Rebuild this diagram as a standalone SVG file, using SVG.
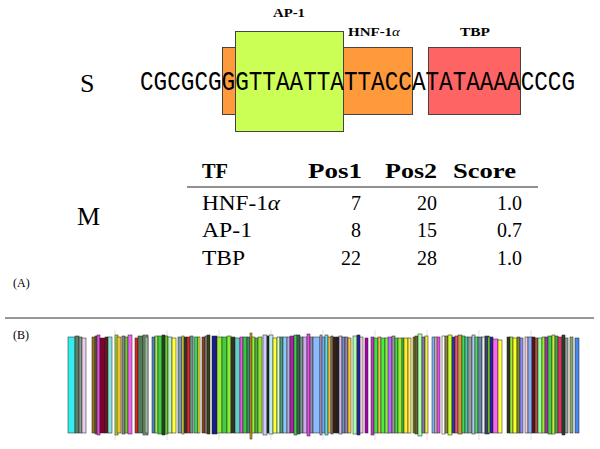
<svg xmlns="http://www.w3.org/2000/svg" width="600" height="449" viewBox="0 0 600 449">
<style>
.serif{font-family:"Liberation Serif","DejaVu Serif",serif;fill:#000}
.lbl{font-family:"Liberation Serif","DejaVu Serif",serif;font-weight:bold;font-size:12px}
.hd{font-family:"Liberation Serif","DejaVu Serif",serif;font-weight:bold;font-size:20px}
.cell{font-family:"Liberation Serif","DejaVu Serif",serif;font-size:20px}
.box{stroke:#444;stroke-width:1}
.b{stroke:#222;stroke-width:0.6;stroke-opacity:0.85}
.grid{stroke:#ccc;stroke-width:0.6}
</style>
<rect width="600" height="449" fill="#fff"/>

<g id="panel-a">
  <text class="serif" x="13" y="287" font-size="12">(A)</text>
  <text class="serif" x="80" y="92" font-size="26">S</text>
  <text class="serif" x="77" y="225" font-size="26">M</text>

  <g id="box-hnf1a">
    <rect class="box" x="222.5" y="47.5" width="190" height="67" fill="#ff9a3c"/>
    <text class="lbl" x="348" y="36" textLength="52" lengthAdjust="spacingAndGlyphs">HNF-1<tspan font-style="italic" font-weight="normal">α</tspan></text>
  </g>
  <g id="box-ap1">
    <rect class="box" x="235.5" y="31.5" width="108" height="100" fill="#ccff55"/>
    <text class="lbl" x="273" y="17" textLength="32" lengthAdjust="spacingAndGlyphs">AP-1</text>
  </g>
  <g id="box-tbp">
    <rect class="box" x="428.5" y="47.5" width="92" height="67" fill="#ff6464"/>
    <text class="lbl" x="460" y="36" textLength="30" lengthAdjust="spacingAndGlyphs">TBP</text>
  </g>
  <text id="sequence" x="140" y="90" font-family="'Liberation Mono','DejaVu Sans Mono',monospace" font-size="27" textLength="435" lengthAdjust="spacingAndGlyphs">CGCGCGGGTTAATTATTACCATATAAAACCCG</text>

  <g id="table">
    <text class="hd" x="202" y="178" textLength="26" lengthAdjust="spacingAndGlyphs">TF</text>
    <text class="hd" x="308" y="178" textLength="54" lengthAdjust="spacingAndGlyphs">Pos1</text>
    <text class="hd" x="385" y="178" textLength="52" lengthAdjust="spacingAndGlyphs">Pos2</text>
    <text class="hd" x="453" y="178" textLength="63" lengthAdjust="spacingAndGlyphs">Score</text>
    <line x1="187" y1="187" x2="538" y2="187" stroke="#222" stroke-width="1.2"/>
    <text class="cell" x="202" y="210" textLength="78" lengthAdjust="spacingAndGlyphs">HNF-1<tspan font-style="italic">α</tspan></text>
    <text class="cell" x="361" y="210" text-anchor="end">7</text>
    <text class="cell" x="437" y="210" text-anchor="end">20</text>
    <text class="cell" x="522" y="210" text-anchor="end">1.0</text>
    <text class="cell" x="202" y="237" textLength="50" lengthAdjust="spacingAndGlyphs">AP-1</text>
    <text class="cell" x="361" y="237" text-anchor="end">8</text>
    <text class="cell" x="437" y="237" text-anchor="end">15</text>
    <text class="cell" x="522" y="237" text-anchor="end">0.7</text>
    <text class="cell" x="202" y="265" textLength="43" lengthAdjust="spacingAndGlyphs">TBP</text>
    <text class="cell" x="361" y="265" text-anchor="end">22</text>
    <text class="cell" x="437" y="265" text-anchor="end">28</text>
    <text class="cell" x="522" y="265" text-anchor="end">1.0</text>
  </g>
</g>

<line x1="5" y1="318" x2="594" y2="318" stroke="#333" stroke-width="1"/>

<g id="panel-b">
  <text class="serif" x="13" y="339" font-size="12">(B)</text>
  <g id="grid">
    <line class="grid" x1="115" y1="330" x2="115" y2="440"/>
    <line class="grid" x1="167" y1="330" x2="167" y2="440"/>
    <line class="grid" x1="219" y1="330" x2="219" y2="440"/>
    <line class="grid" x1="271" y1="330" x2="271" y2="440"/>
    <line class="grid" x1="323" y1="330" x2="323" y2="440"/>
    <line class="grid" x1="375" y1="330" x2="375" y2="440"/>
    <line class="grid" x1="427" y1="330" x2="427" y2="440"/>
    <line class="grid" x1="479" y1="330" x2="479" y2="440"/>
    <line class="grid" x1="531" y1="330" x2="531" y2="440"/>
  </g>
  <g id="bars">
    <rect class="b" x="68" y="337" width="7" height="96" fill="#33eeee" stroke="#446"/>
    <rect class="b" x="75" y="336" width="4" height="97" fill="#5b7f6b"/>
    <rect class="b" x="79" y="337" width="3" height="96" fill="#8a9a8a"/>
    <rect class="b" x="82" y="338" width="4" height="95" fill="#e6d0ee" stroke="#a7a"/>
    <rect class="b" x="92" y="337" width="3" height="96" fill="#9a7020"/>
    <rect class="b" x="95" y="336" width="2" height="98" fill="#556b2f"/>
    <rect class="b" x="97" y="335" width="3" height="100" fill="#ee44ee"/>
    <rect class="b" x="100" y="338" width="5" height="95" fill="#800030"/>
    <rect class="b" x="105" y="337" width="3" height="96" fill="#6a1a1a"/>
    <rect class="b" x="108" y="337" width="4" height="96" fill="#88e0e0" stroke="#222"/>
    <rect class="b" x="115" y="335" width="3" height="100" fill="#99ee33"/>
    <rect class="b" x="117" y="337" width="4" height="96" fill="#f0c030"/>
    <rect class="b" x="122" y="336" width="3" height="98" fill="#888888"/>
    <rect class="b" x="125" y="337" width="3" height="96" fill="#77cc33"/>
    <rect class="b" x="128" y="335" width="4" height="99" fill="#ee66ee"/>
    <rect class="b" x="135" y="338" width="3" height="95" fill="#dd2222"/>
    <rect class="b" x="138" y="336" width="5" height="97" fill="#557a5a"/>
    <rect class="b" x="143" y="335" width="5" height="100" fill="#779977"/>
    <rect class="b" x="145" y="337" width="3" height="96" fill="#99bb99"/>
    <rect class="b" x="152" y="337" width="3" height="96" fill="#5080c0"/>
    <rect class="b" x="155" y="336" width="3" height="97" fill="#99ee44"/>
    <rect class="b" x="158" y="336" width="4" height="98" fill="#44cc44"/>
    <rect class="b" x="162" y="335" width="3" height="100" fill="#1a4a1a"/>
    <rect class="b" x="165" y="336" width="3" height="98" fill="#66cc33"/>
    <rect class="b" x="168" y="337" width="4" height="96" fill="#bbeebb"/>
    <rect class="b" x="172" y="338" width="4" height="95" fill="#ffff44"/>
    <rect class="b" x="178" y="337" width="4" height="96" fill="#7799aa"/>
    <rect class="b" x="182" y="336" width="2" height="98" fill="#ffee33"/>
    <rect class="b" x="184" y="337" width="3" height="96" fill="#333333"/>
    <rect class="b" x="187" y="337" width="3" height="96" fill="#ee2222"/>
    <rect class="b" x="190" y="336" width="3" height="97" fill="#669988"/>
    <rect class="b" x="194" y="337" width="4" height="96" fill="#44cc66"/>
    <rect class="b" x="198" y="337" width="2" height="96" fill="#ffee22"/>
    <rect class="b" x="202" y="337" width="3" height="96" fill="#884422"/>
    <rect class="b" x="205" y="336" width="3" height="97" fill="#888888"/>
    <rect class="b" x="207" y="335" width="3" height="99" fill="#334411" stroke="#cc3"/>
    <rect class="b" x="212" y="336" width="5" height="98" fill="#1a1a8a"/>
    <rect class="b" x="217" y="337" width="5" height="96" fill="#99ee33"/>
    <rect class="b" x="222" y="337" width="5" height="96" fill="#44cc44"/>
    <rect class="b" x="227" y="336" width="4" height="97" fill="#88ee33"/>
    <rect class="b" x="231" y="337" width="4" height="96" fill="#333322"/>
    <rect class="b" x="235" y="338" width="5" height="95" fill="#66cccc"/>
    <rect class="b" x="240" y="337" width="3" height="96" fill="#ee55ee"/>
    <rect class="b" x="243" y="337" width="4" height="96" fill="#33cc33"/>
    <rect class="b" x="247" y="337" width="3" height="96" fill="#448877"/>
    <rect class="b" x="250" y="333" width="2" height="106" fill="#dd9922"/>
    <rect class="b" x="252" y="337" width="3" height="96" fill="#99ee33"/>
    <rect class="b" x="255" y="338" width="3" height="95" fill="#44bb44"/>
    <rect class="b" x="258" y="337" width="4" height="96" fill="#99dd33"/>
    <rect class="b" x="263" y="335" width="4" height="100" fill="#ccccff"/>
    <rect class="b" x="267" y="336" width="2" height="97" fill="#222222"/>
    <rect class="b" x="269" y="335" width="4" height="99" fill="#bbeeee"/>
    <rect class="b" x="273" y="338" width="4" height="95" fill="#ffff33"/>
    <rect class="b" x="277" y="337" width="3" height="96" fill="#ccffcc"/>
    <rect class="b" x="280" y="337" width="3" height="96" fill="#559977"/>
    <rect class="b" x="283" y="337" width="4" height="96" fill="#88ccff"/>
    <rect class="b" x="287" y="337" width="3" height="96" fill="#bbaadd"/>
    <rect class="b" x="290" y="336" width="4" height="97" fill="#aa22aa"/>
    <rect class="b" x="294" y="335" width="3" height="100" fill="#44cc44"/>
    <rect class="b" x="297" y="335" width="3" height="99" fill="#336655"/>
    <rect class="b" x="300" y="337" width="3" height="96" fill="#779988"/>
    <rect class="b" x="303" y="337" width="4" height="96" fill="#ccaaee"/>
    <rect class="b" x="307" y="334" width="3" height="102" fill="#ee44ee"/>
    <rect class="b" x="310" y="337" width="3" height="96" fill="#9988aa"/>
    <rect class="b" x="313" y="337" width="7" height="96" fill="#88bbff"/>
    <rect class="b" x="320" y="335" width="2" height="100" fill="#bbaadd"/>
    <rect class="b" x="322" y="337" width="3" height="96" fill="#77aaee"/>
    <rect class="b" x="325" y="335" width="3" height="100" fill="#66dddd" stroke="#222"/>
    <rect class="b" x="328" y="337" width="3" height="96" fill="#eebb44"/>
    <rect class="b" x="331" y="336" width="2" height="98" fill="#888888"/>
    <rect class="b" x="333" y="337" width="4" height="96" fill="#3a2010"/>
    <rect class="b" x="337" y="337" width="2" height="96" fill="#222222"/>
    <rect class="b" x="339" y="336" width="3" height="98" fill="#ccbbee"/>
    <rect class="b" x="342" y="337" width="3" height="96" fill="#7788bb"/>
    <rect class="b" x="345" y="337" width="3" height="96" fill="#9988aa"/>
    <rect class="b" x="348" y="338" width="3" height="95" fill="#ffcc33" stroke="#111"/>
    <rect class="b" x="353" y="336" width="4" height="98" fill="#aaffaa"/>
    <rect class="b" x="357" y="335" width="3" height="100" fill="#2222aa"/>
    <rect class="b" x="360" y="337" width="3" height="96" fill="#eeccdd"/>
    <rect class="b" x="365" y="338" width="3" height="95" fill="#aa00aa"/>
    <rect class="b" x="371" y="337" width="3" height="98" fill="#cc33cc"/>
    <rect class="b" x="374" y="338" width="4" height="95" fill="#44dd44"/>
    <rect class="b" x="378" y="337" width="3" height="96" fill="#eebb44"/>
    <rect class="b" x="381" y="338" width="4" height="95" fill="#44ee44"/>
    <rect class="b" x="385" y="338" width="4" height="95" fill="#88ee44"/>
    <rect class="b" x="388" y="337" width="4" height="96" fill="#bb66ff"/>
    <rect class="b" x="392" y="336" width="3" height="97" fill="#999999"/>
    <rect class="b" x="395" y="338" width="3" height="95" fill="#44dd44"/>
    <rect class="b" x="398" y="338" width="4" height="95" fill="#99ee33"/>
    <rect class="b" x="402" y="338" width="2" height="95" fill="#44cc44"/>
    <rect class="b" x="404" y="338" width="4" height="95" fill="#ffee33"/>
    <rect class="b" x="408" y="338" width="3" height="95" fill="#ffee55"/>
    <rect class="b" x="413" y="337" width="2" height="96" fill="#888800"/>
    <rect class="b" x="415" y="336" width="3" height="98" fill="#666633"/>
    <rect class="b" x="418" y="334" width="4" height="102" fill="#aaffaa"/>
    <rect class="b" x="422" y="337" width="3" height="96" fill="#8877aa"/>
    <rect class="b" x="425" y="336" width="3" height="97" fill="#eeee44"/>
    <rect class="b" x="432" y="337" width="3" height="96" fill="#88aaff"/>
    <rect class="b" x="435" y="337" width="2" height="96" fill="#eeeeaa"/>
    <rect class="b" x="437" y="337" width="3" height="96" fill="#ee44ee"/>
    <rect class="b" x="442" y="336" width="3" height="98" fill="#ffffff" stroke="#111"/>
    <rect class="b" x="445" y="336" width="3" height="97" fill="#888833"/>
    <rect class="b" x="448" y="335" width="4" height="100" fill="#ccff33"/>
    <rect class="b" x="452" y="337" width="3" height="96" fill="#3333aa"/>
    <rect class="b" x="455" y="336" width="3" height="97" fill="#ee5566"/>
    <rect class="b" x="458" y="335" width="4" height="99" fill="#cc9944"/>
    <rect class="b" x="462" y="336" width="3" height="97" fill="#44dd44"/>
    <rect class="b" x="465" y="337" width="3" height="96" fill="#44ccaa"/>
    <rect class="b" x="468" y="337" width="4" height="96" fill="#999999"/>
    <rect class="b" x="472" y="335" width="3" height="99" fill="#aaccff"/>
    <rect class="b" x="475" y="337" width="3" height="96" fill="#55dd55"/>
    <rect class="b" x="478" y="337" width="4" height="96" fill="#6688aa"/>
    <rect class="b" x="482" y="337" width="3" height="96" fill="#eeeeee"/>
    <rect class="b" x="485" y="336" width="4" height="98" fill="#334466"/>
    <rect class="b" x="488" y="337" width="2" height="96" fill="#88ee22"/>
    <rect class="b" x="490" y="337" width="3" height="96" fill="#2222aa"/>
    <rect class="b" x="493" y="339" width="5" height="94" fill="#ff66ee"/>
    <rect class="b" x="498" y="340" width="4" height="93" fill="#ffff44"/>
    <rect class="b" x="507" y="337" width="3" height="96" fill="#333322"/>
    <rect class="b" x="510" y="337" width="3" height="96" fill="#99ee33"/>
    <rect class="b" x="513" y="338" width="4" height="95" fill="#ffff22"/>
    <rect class="b" x="517" y="337" width="3" height="96" fill="#778833"/>
    <rect class="b" x="520" y="338" width="3" height="95" fill="#8888ff"/>
    <rect class="b" x="525" y="337" width="3" height="96" fill="#eeccdd"/>
    <rect class="b" x="528" y="337" width="4" height="96" fill="#88aaee"/>
    <rect class="b" x="532" y="337" width="3" height="96" fill="#551122"/>
    <rect class="b" x="535" y="338" width="3" height="95" fill="#aa5544"/>
    <rect class="b" x="538" y="338" width="4" height="95" fill="#99ff99"/>
    <rect class="b" x="542" y="337" width="3" height="96" fill="#99ee33"/>
    <rect class="b" x="545" y="337" width="3" height="96" fill="#aa33aa"/>
    <rect class="b" x="548" y="336" width="4" height="98" fill="#44cc44"/>
    <rect class="b" x="552" y="335" width="3" height="99" fill="#ccee44"/>
    <rect class="b" x="555" y="336" width="3" height="97" fill="#44aa44"/>
    <rect class="b" x="558" y="337" width="4" height="96" fill="#dd3366"/>
    <rect class="b" x="562" y="335" width="3" height="100" fill="#224422"/>
    <rect class="b" x="565" y="338" width="3" height="95" fill="#999999"/>
    <rect class="b" x="570" y="337" width="3" height="96" fill="#88aa66"/>
    <rect class="b" x="575" y="338" width="4" height="95" fill="#4488ee"/>
  </g>
</g>
</svg>
